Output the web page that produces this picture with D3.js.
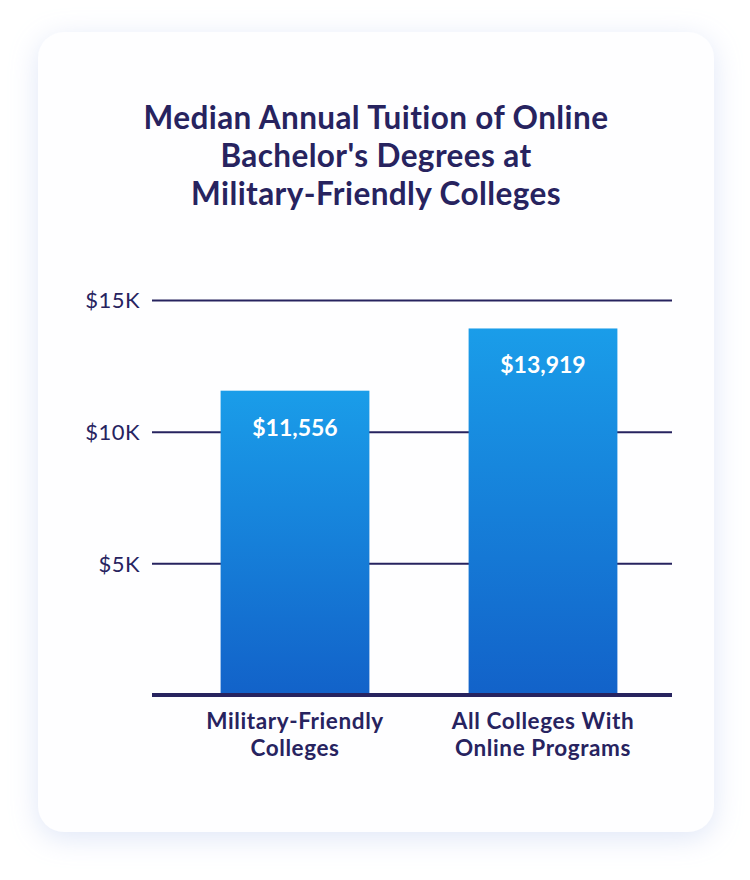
<!DOCTYPE html>
<html>
<head>
<meta charset="utf-8">
<script src="https://cdn.jsdelivr.net/npm/d3@7"></script>
<style>
  html, body { margin: 0; padding: 0; background: #ffffff; }
  svg { display: block; font-family: Lato, "Open Sans", sans-serif; }
</style>
</head>
<body>
<div id="chart"></div>
<script>
    // Chart data
    var titleLines = ["Median Annual Tuition of Online", "Bachelor's Degrees at", "Military-Friendly Colleges"];
    var categories = ["Military-Friendly Colleges", "All Colleges With Online Programs"];
    var categoryLines = [["Military-Friendly", "Colleges"], ["All Colleges With", "Online Programs"]];
    var tuition = [11556, 13919];
    var tickValues = [5000, 10000, 15000];
    var tickLabels = ["$5K", "$10K", "$15K"];

    var width = 750;
    var height = 880;
    var navy = "#27235f";

    var svg = d3.select("#chart")
      .append("svg")
      .attr("width", width)
      .attr("height", height);

    var defs = svg.append("defs");

    // Soft bluish shadow behind the card
    var shadow = defs.append("filter")
      .attr("id", "card-shadow")
      .attr("x", "-20%").attr("y", "-20%")
      .attr("width", "140%").attr("height", "140%");
    shadow.append("feDropShadow")
      .attr("dx", 0).attr("dy", 6)
      .attr("stdDeviation", 14)
      .attr("flood-color", "#b8c8ee")
      .attr("flood-opacity", 0.45);

    // Bar gradient, light blue on top to deeper blue at the bottom
    var grad = defs.append("linearGradient")
      .attr("id", "bar-grad")
      .attr("x1", 0).attr("y1", 0)
      .attr("x2", 0).attr("y2", 1);
    grad.append("stop").attr("offset", "0%").attr("stop-color", "#1a9de9");
    grad.append("stop").attr("offset", "100%").attr("stop-color", "#1262c9");

    // Card
    svg.append("rect")
      .attr("x", 38)
      .attr("y", 32)
      .attr("width", 676)
      .attr("height", 800)
      .attr("rx", 26)
      .attr("fill", "#fefeff")
      .attr("filter", "url(#card-shadow)");

    // Title
    svg.append("text")
      .attr("text-anchor", "middle")
      .attr("fill", navy)
      .style("font-size", "31.5px")
      .style("font-weight", "bold")
      .style("letter-spacing", "0.4px")
      .selectAll("tspan")
      .data(titleLines)
      .enter()
      .append("tspan")
      .attr("x", 376)
      .attr("y", function (d, i) { return 129 + i * 38; })
      .text(function (d) { return d; });

    // Scales
    var yScale = d3.scaleLinear()
      .domain([0, 15000])
      .range([695, 300]);

    var xScale = d3.scaleBand()
      .domain(categories)
      .range([171, 667])
      .paddingInner(0.4)
      .paddingOuter(0.2);

    // Gridlines and tick labels
    var yAxis = d3.axisLeft(yScale)
      .tickValues(tickValues)
      .tickSize(-520)
      .tickPadding(14)
      .tickFormat(function (d, i) { return tickLabels[i]; });

    var axisG = svg.append("g")
      .attr("class", "y-axis")
      .attr("transform", "translate(152,0)")
      .call(yAxis);

    axisG.select(".domain").remove();
    axisG.selectAll(".tick line")
      .attr("stroke", navy)
      .attr("stroke-width", 2);
    axisG.selectAll(".tick text")
      .attr("fill", navy)
      .attr("x", -12)
      .attr("dy", "0.36em")
      .style("font-size", "22px")
      .style("letter-spacing", "0.5px")
      .style("font-family", "Lato, sans-serif");

    // Bars
    svg.selectAll(".bar")
      .data(tuition)
      .enter()
      .append("rect")
      .attr("class", "bar")
      .attr("x", function (d, i) { return xScale(categories[i]); })
      .attr("y", function (d) { return yScale(d); })
      .attr("width", xScale.bandwidth())
      .attr("height", function (d) { return yScale(0) - yScale(d); })
      .attr("fill", "url(#bar-grad)");

    // Baseline
    svg.append("line")
      .attr("x1", 152)
      .attr("x2", 672)
      .attr("y1", yScale(0))
      .attr("y2", yScale(0))
      .attr("stroke", navy)
      .attr("stroke-width", 4);

    // Value labels inside the bars
    svg.selectAll(".value-label")
      .data(tuition)
      .enter()
      .append("text")
      .attr("class", "value-label")
      .attr("x", function (d, i) { return xScale(categories[i]) + xScale.bandwidth() / 2; })
      .attr("y", function (d) { return yScale(d) + 45; })
      .attr("text-anchor", "middle")
      .attr("fill", "#ffffff")
      .style("font-size", "23px")
      .style("font-weight", "bold")
      .text(function (d) { return "$" + d3.format(",")(d); });

    // Category labels
    var catG = svg.selectAll(".cat-label")
      .data(categoryLines)
      .enter()
      .append("text")
      .attr("class", "cat-label")
      .attr("text-anchor", "middle")
      .attr("fill", navy)
      .style("font-size", "22.5px")
      .style("font-weight", "bold")
      .style("letter-spacing", "0.6px");

    catG.selectAll("tspan")
      .data(function (d, i) { return d.map(function (line) { return { line: line, i: i }; }); })
      .enter()
      .append("tspan")
      .attr("x", function (d) { return xScale(categories[d.i]) + xScale.bandwidth() / 2; })
      .attr("y", function (d, j) { return 729 + j * 27; })
      .text(function (d) { return d.line; });
</script>
</body>
</html>
